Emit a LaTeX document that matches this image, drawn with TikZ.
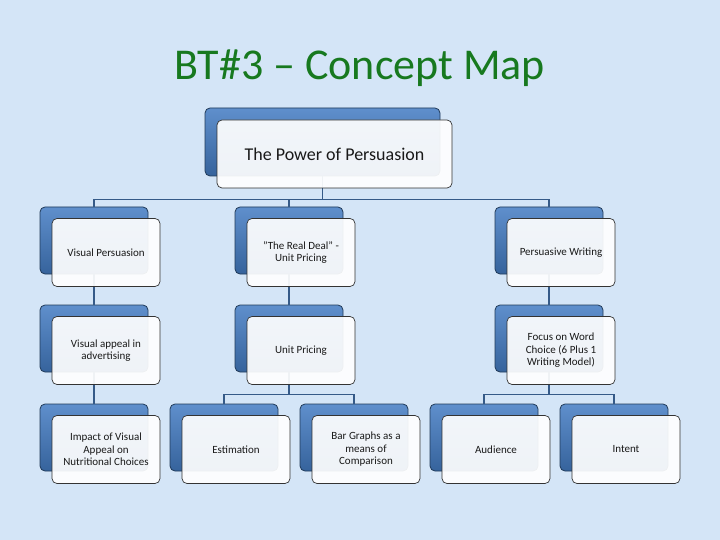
\documentclass[tikz,border=0pt]{standalone}
\usepackage{fontspec}
\setmainfont{Carlito}
\usetikzlibrary{positioning}
\definecolor{bgblue}{HTML}{D4E5F7}
\definecolor{titlegreen}{HTML}{17791F}
\definecolor{boxtop}{HTML}{5F8FCC}
\definecolor{boxbot}{HTML}{36639C}
\definecolor{boxline}{HTML}{203A58}
\definecolor{linkblue}{HTML}{355A88}

\begin{document}
\begin{tikzpicture}[x=1pt, y=-1pt,
        back/.style={rectangle, rounded corners=5pt, draw=boxline, line width=0.8pt, top color=boxtop, bottom color=boxbot, minimum width=108pt, minimum height=67pt},
        front/.style={rectangle, rounded corners=5pt, draw=black!80, line width=0.7pt, fill=white, fill opacity=0.92, text opacity=1, text=black!90, minimum width=108pt, minimum height=68pt, align=center, font=\fontsize{11}{12.5}\selectfont},
        link/.style={draw=linkblue, line width=1.6pt}
    ]

    % background and title
    \fill[bgblue] (0,0) rectangle (720,540);
    \useasboundingbox (0,0) rectangle (720,540);
    \node[text=titlegreen, font=\fontsize{44}{48}\selectfont] (title) at (360,68) {BT\#3 -- Concept Map};

    % back boxes
    \node[back, minimum width=235pt, minimum height=68pt] (topB) at (322.5,142) {};
    \node[back] (vpB) at (94,240.5) {};
    \node[back] (dealB) at (289,240.5) {};
    \node[back] (pwB) at (549,240.5) {};
    \node[back] (appealB) at (94,338.5) {};
    \node[back] (unitB) at (289,338.5) {};
    \node[back] (focusB) at (549,338.5) {};
    \node[back] (impactB) at (94,437.5) {};
    \node[back] (estB) at (224,437.5) {};
    \node[back] (barB) at (354,437.5) {};
    \node[back] (audB) at (484,437.5) {};
    \node[back] (intentB) at (614,437.5) {};

    % connectors
    \draw[link] (topB.south) -- ++(0,23) -| (vpB.north);
    \draw[link] (topB.south) ++(0,23) -| (dealB.north);
    \draw[link] (topB.south) ++(0,23) -| (pwB.north);
    \draw[link] (vpB) -- (appealB);
    \draw[link] (dealB) -- (unitB);
    \draw[link] (pwB) -- (focusB);
    \draw[link] (appealB) -- (impactB);
    \draw[link] (unitB.south) -- ++(0,22) -| (estB.north);
    \draw[link] (unitB.south) ++(0,22) -| (barB.north);
    \draw[link] (focusB.south) -- ++(0,22) -| (audB.north);
    \draw[link] (focusB.south) ++(0,22) -| (intentB.north);

    % front boxes
    \node[front, minimum width=235pt, font=\fontsize{18}{21}\selectfont] (top) at (334.5,154) {The Power of Persuasion};
    \node[front] (vp) at (106,252.5) {Visual Persuasion};
    \node[front] (deal) at (301,252.5) {"The Real Deal" -\\Unit Pricing};
    \node[front] (pw) at (561,252.5) {Persuasive Writing};
    \node[front] (appeal) at (106,350.5) {Visual appeal in\\advertising};
    \node[front] (unit) at (301,350.5) {Unit Pricing};
    \node[front] (focus) at (561,350.5) {Focus on Word\\Choice (6 Plus 1\\Writing Model)};
    \node[front] (impact) at (106,449.5) {Impact of Visual\\Appeal on\\Nutritional Choices};
    \node[front] (est) at (236,449.5) {Estimation};
    \node[front] (bar) at (366,449.5) {Bar Graphs as a\\means of\\Comparison};
    \node[front] (aud) at (496,449.5) {Audience};
    \node[front] (intent) at (626,449.5) {Intent};
\end{tikzpicture}
\end{document}
